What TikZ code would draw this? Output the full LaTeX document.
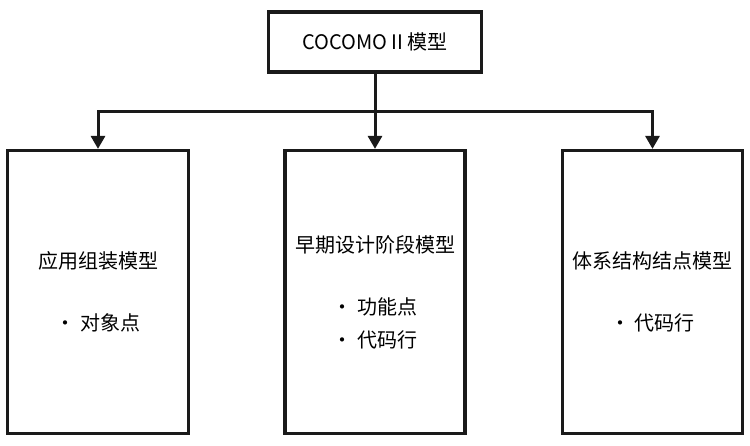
\documentclass[tikz,border=0pt]{standalone}
\usepackage{fontspec}
\setmainfont{Noto Sans CJK SC}
\usetikzlibrary{arrows.meta,positioning}
\definecolor{linegray}{HTML}{1A1A1A}

\begin{document}
\begin{tikzpicture}[x=1pt,y=1pt,>={Triangle[width=14pt,length=13pt]},
  box/.style={draw=linegray,line width=3.2pt,fill=white,align=center,
    font=\fontsize{20}{33}\selectfont,inner sep=0pt},
  link/.style={draw=linegray,line width=3pt}]
  \useasboundingbox[fill=white] (0,0) rectangle (750,446);
  % top and the three sub-models
  \node[box,minimum width=213pt,minimum height=60pt] (cocomo) at (375,404) {COCOMO II 模型};
  \node[box,minimum width=181pt,minimum height=283pt] (app) at (98,154)
    {应用组装模型\\[29pt]· 对象点};
  \node[box,minimum width=180pt,minimum height=283pt] (early) at (375,154)
    {早期设计阶段模型\\[29pt]· 功能点\\· 代码行};
  \node[box,minimum width=180pt,minimum height=283pt] (post) at (652.5,154)
    {体系结构结点模型\\[29pt]· 代码行};
  \coordinate (bus) at (375,334);
  \draw[link,->] (cocomo.south) -- (early.north);
  \draw[link,->] (bus) -| (app.north);
  \draw[link,->] (bus) -| (post.north);
\end{tikzpicture}
\end{document}
